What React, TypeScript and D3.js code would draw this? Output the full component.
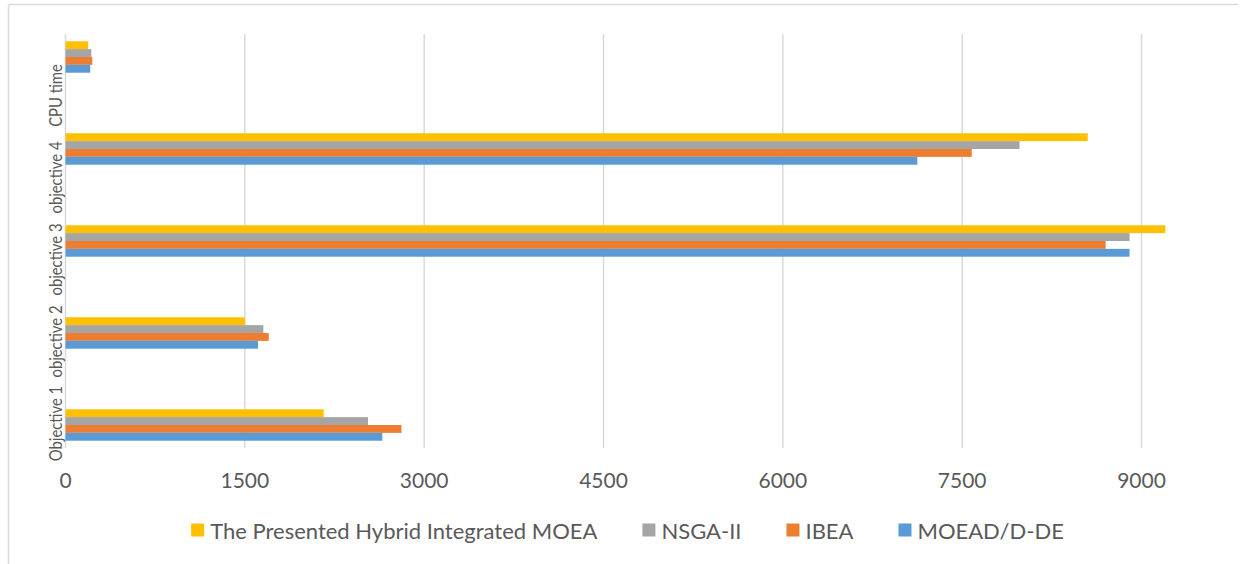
import React, { useEffect, useRef } from "react";
import * as d3 from "d3";

// categories, bottom to top as in the chart
const categories = ["Objective 1", "objective 2", "objective 3", "objective 4", "CPU time"];

// series in legend order (top bar in each group first)
const seriesNames = ["The Presented Hybrid Integrated MOEA", "NSGA-II", "IBEA", "MOEAD/D-DE"];
const seriesColors = ["#FFC000", "#A5A5A5", "#ED7D31", "#5B9BD5"];

const hybridValues = [2160, 1500, 9200, 8550, 190];
const nsgaValues = [2530, 1655, 8900, 7980, 216];
const ibeaValues = [2810, 1700, 8700, 7580, 224];
const moeadValues = [2650, 1610, 8900, 7125, 207];

const xTicks = [0, 1500, 3000, 4500, 6000, 7500, 9000];

const W = 1249;
const H = 564;
const FONT = "Lato, 'Open Sans', sans-serif";
const TEXT = "#595959";
const GRID = "#d9d9d9";

export default function App() {
  const svgRef = useRef<SVGSVGElement>(null);

  useEffect(() => {
    if (!svgRef.current) return;
    const svg = d3.select(svgRef.current);
    svg.selectAll("*").remove();

    const values = [hybridValues, nsgaValues, ibeaValues, moeadValues];

    // plot area (the picture is cut off past 9000 on the right)
    const x = d3.scaleLinear().domain([0, 9000]).range([65.5, 1141.5]);
    const gridTop = 34;
    const gridBottom = 448;

    // bars sit on a slightly taller band than the labels
    const yBars = d3.scaleBand().domain(categories).range([471, 11]);
    const yLabels = d3.scaleBand().domain(categories).range([464.5, 54.5]);
    const groupH = yBars.bandwidth() * 0.342;
    const yInner = d3.scaleBand().domain(seriesNames).range([0, groupH]);

    // chart frame (top and left edges visible)
    svg.append("line").attr("x1", 8.5).attr("x2", 1238).attr("y1", 4.5).attr("y2", 4.5)
      .attr("stroke", GRID).attr("stroke-width", 1.5);
    svg.append("line").attr("x1", 8.5).attr("x2", 8.5).attr("y1", 4.5).attr("y2", H)
      .attr("stroke", GRID).attr("stroke-width", 1.5);

    // gridlines
    svg.append("g")
      .selectAll("line")
      .data(xTicks)
      .enter()
      .append("line")
      .attr("x1", (d) => x(d))
      .attr("x2", (d) => x(d))
      .attr("y1", gridTop)
      .attr("y2", gridBottom)
      .attr("stroke", GRID)
      .attr("stroke-width", 1.5);

    // bars
    seriesNames.forEach((name, si) => {
      svg.append("g")
        .selectAll("rect")
        .data(categories)
        .enter()
        .append("rect")
        .attr("x", x(0))
        .attr("y", (c) => yBars(c)! + yBars.bandwidth() / 2 - groupH / 2 + yInner(name)!)
        .attr("width", (c, i) => x(values[si][i]) - x(0))
        .attr("height", yInner.bandwidth())
        .attr("fill", seriesColors[si]);
    });

    // x tick labels
    svg.append("g")
      .selectAll("text")
      .data(xTicks)
      .enter()
      .append("text")
      .attr("x", (d) => x(d))
      .attr("y", 479)
      .attr("text-anchor", "middle")
      .attr("dominant-baseline", "central")
      .attr("font-family", FONT)
      .attr("font-size", 21)
      .attr("fill", TEXT)
      .text((d) => String(d));

    // category labels, rotated; squeezed a little to get Calibri-like widths
    svg.append("g")
      .selectAll("text")
      .data(categories)
      .enter()
      .append("text")
      .attr("transform", (c) => `translate(56, ${yLabels(c)! + yLabels.bandwidth() / 2}) rotate(-90) scale(0.9, 1)`)
      .attr("text-anchor", "middle")
      .attr("dominant-baseline", "central")
      .attr("font-family", FONT)
      .attr("font-size", 16.5)
      .attr("fill", TEXT)
      .text((c) => c);

    // legend, laid out from measured text widths and centred
    const legend = svg.append("g");
    const box = 13;
    const gapBox = 6;
    const gapItem = 45;
    const items = seriesNames.map((name, i) => {
      const g = legend.append("g");
      g.append("rect").attr("width", box).attr("height", box).attr("y", -box / 2)
        .attr("fill", seriesColors[i]);
      const t = g.append("text")
        .attr("x", box + gapBox)
        .attr("dominant-baseline", "central")
        .attr("font-family", FONT)
        .attr("font-size", 22)
        .attr("fill", TEXT)
        .text(name);
      const w = (t.node() as SVGTextElement).getComputedTextLength();
      return { g, w: box + gapBox + w };
    });
    const total = d3.sum(items, (d) => d.w) + gapItem * (items.length - 1);
    let cx = 627.5 - total / 2;
    items.forEach((it) => {
      it.g.attr("transform", `translate(${cx}, 530)`);
      cx += it.w + gapItem;
    });
  }, []);

  return (
    <svg
      ref={svgRef}
      width={W}
      height={H}
      style={{ position: "absolute", left: 0, top: 0, background: "#fff" }}
    />
  );
}
